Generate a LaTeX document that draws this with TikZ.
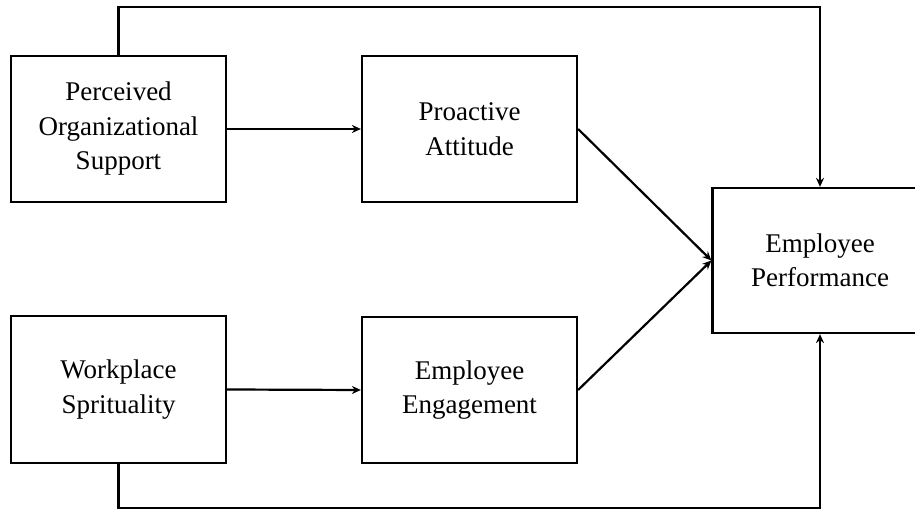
\documentclass[tikz,border=0pt]{standalone}
\usepackage{fontspec}
\setmainfont{Liberation Serif}
\usetikzlibrary{arrows.meta,calc}
\begin{document}
\begin{tikzpicture}[x=1pt,y=1pt,
  box/.style={draw,line width=2.2pt,minimum width=215pt,minimum height=146pt,align=center,inner sep=0pt,
    font=\fontsize{27}{34.5}\selectfont},
  conn/.style={line width=2.2pt},
  arr/.style={conn,-{Stealth[length=9pt,width=8pt]}}]
\useasboundingbox (0,0) rectangle (915,510);
\node[box] (pos) at (118.5,381) {Perceived\\Organizational\\Support};
\node[box] (pa) at (469.5,381) {Proactive\\Attitude};
\node[box,minimum height=147pt] (ws) at (118.5,120.5) {Workplace\\Spritual\-ity};
\node[box] (ee) at (469.5,120) {Employee\\Engagement};
\node[box,minimum height=145pt] (ep) at (820,249.5) {Employee\\Performance};
\coordinate (t1) at (118.5,503);
\coordinate (t2) at (820,503);
\coordinate (b1) at (118.5,2);
\coordinate (b2) at (820,2);
\draw[arr] (pos.east) -- (pa.west);
\draw[arr] (ws.east) -- (ee.west);
\draw[arr] (pa.east) -- (ep.west);
\draw[arr] (ee.east) -- (ep.west);
\draw[arr] (pos.north) -- (t1) -- (t2) -- (ep.north);
\draw[arr] (ws.south) -- (b1) -- (b2) -- (ep.south);
\end{tikzpicture}
\end{document}
